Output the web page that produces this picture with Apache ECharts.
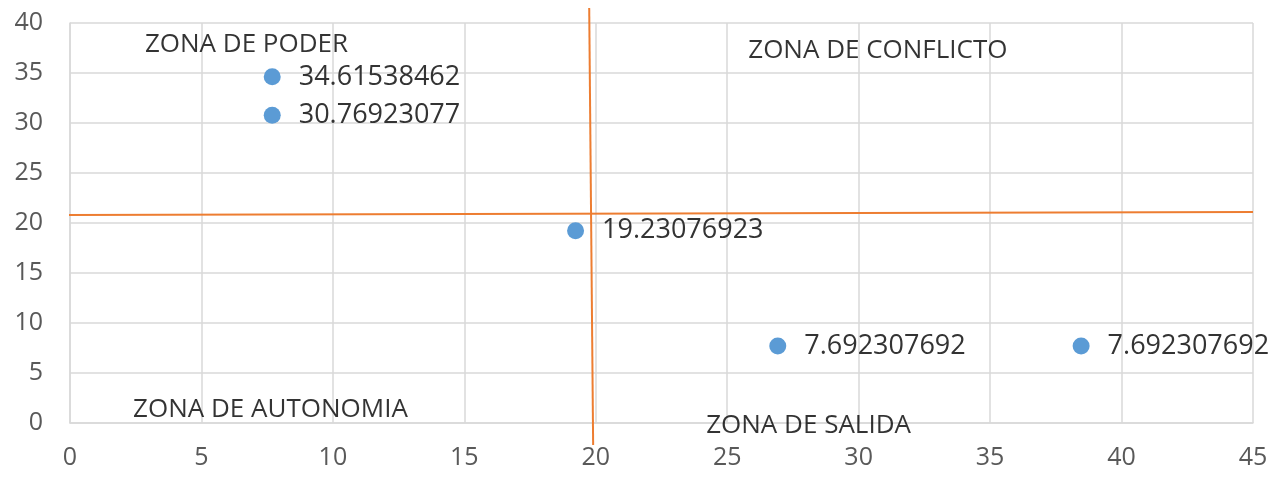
<!DOCTYPE html>
<html>
<head>
<meta charset="utf-8">
<script src="https://cdn.jsdelivr.net/npm/echarts@6/dist/echarts.min.js"></script>
<style>
  html, body { margin: 0; padding: 0; background: #fff; }
  #chart { width: 1275px; height: 477px; }
</style>
</head>
<body>
<div id="chart"></div>
<script>
// puntos de la matriz
const xValues = [7.692307692, 7.692307692, 19.23076923, 26.92307692, 38.46153846]
const yValues = [34.61538462, 30.76923077, 19.23076923, 7.692307692, 7.692307692]

// lineas divisorias (naranja)
const vLine = [[19.75, 41.5], [19.9, -2.2]]
const hLine = [[-0.1, 20.8], [45, 21.1]]

// textos de zona: [x, y, nombre]
const zones = [
  [2.85, 37.8, 'ZONA DE PODER'],
  [25.8, 37.2, 'ZONA DE CONFLICTO'],
  [2.4, 1.3, 'ZONA DE AUTONOMIA'],
  [24.2, -0.3, 'ZONA DE SALIDA'],
]

const FONT = 'Open Sans'
const chart = echarts.init(document.getElementById('chart'), null, { renderer: 'canvas' })

chart.setOption({
  animation: false,
  backgroundColor: '#fff',
  grid: { left: 70, right: 22, top: 23, bottom: 54 },
  xAxis: {
    type: 'value', min: 0, max: 45, interval: 5,
    axisLine: { show: true, lineStyle: { color: '#d9d9d9', width: 1.5 } },
    axisTick: { show: false },
    splitLine: { show: true, lineStyle: { color: '#d9d9d9', width: 1.5 } },
    axisLabel: { color: '#595959', fontSize: 25, fontFamily: FONT, margin: 22 }
  },
  yAxis: {
    type: 'value', min: 0, max: 40, interval: 5,
    axisLine: { show: true, lineStyle: { color: '#d9d9d9', width: 1.5 } },
    axisTick: { show: false },
    splitLine: { show: true, lineStyle: { color: '#d9d9d9', width: 1.5 } },
    axisLabel: { color: '#595959', fontSize: 25, fontFamily: FONT, margin: 27 }
  },
  series: [
    {
      type: 'line', data: vLine, clip: false, symbol: 'none',
      lineStyle: { color: '#ED7D31', width: 2 }, z: 3
    },
    {
      type: 'line', data: hLine, clip: false, symbol: 'none',
      lineStyle: { color: '#ED7D31', width: 2 }, z: 3
    },
    {
      type: 'scatter',
      data: xValues.map((x, i) => [x, yValues[i]]),
      symbolSize: 17,
      itemStyle: { color: '#5B9BD5', opacity: 1 },
      label: {
        show: true, position: 'right', distance: 18,
        formatter: p => String(p.value[1]),
        color: '#333', fontSize: 27, fontFamily: FONT
      },
      z: 4
    },
    {
      type: 'scatter', clip: false,
      data: zones.map(z => ({ value: [z[0], z[1]], name: z[2] })),
      symbolSize: 0,
      label: {
        show: true, position: 'right', distance: 0,
        formatter: p => p.name,
        color: '#000', fontSize: 26, fontFamily: FONT
      },
      z: 5
    }
  ]
})
</script>
</body>
</html>
